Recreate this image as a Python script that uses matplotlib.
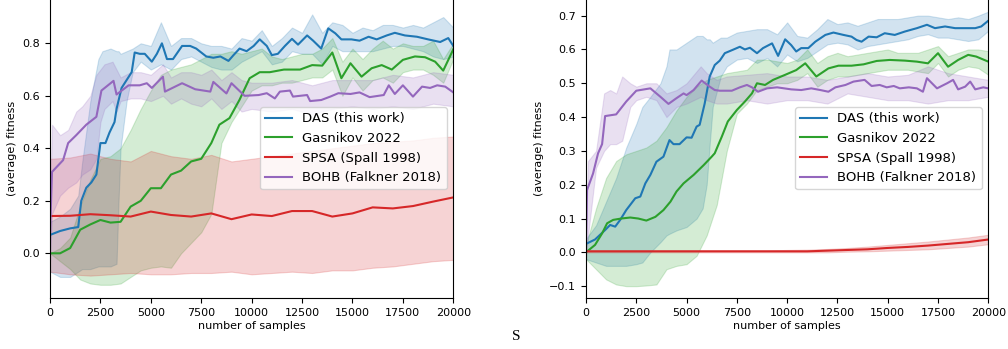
import matplotlib
matplotlib.use("Agg")
import matplotlib.pyplot as plt

# ---------------- left panel data ----------------
das_l_x = [0, 500, 750, 1000, 1400, 1550, 1800, 2050, 2300, 2500, 2750, 2950, 3200, 3300,
           3550, 3800, 4050, 4200, 4450, 4700, 5050, 5300, 5550, 5800, 6100, 6550, 6950,
           7250, 7750, 8100, 8450, 8850, 9100, 9400, 9750, 10100, 10400, 10750, 11000,
           11300, 11650, 12000, 12300, 12750, 13050, 13450, 13800, 14150, 14450, 14950,
           15350, 15800, 16200, 16700, 17100, 17600, 18200, 18750, 19350, 19750, 20000]
das_l_y = [0.07, 0.085, 0.09, 0.095, 0.10, 0.20, 0.25, 0.27, 0.30, 0.42, 0.42, 0.46, 0.50, 0.55,
           0.63, 0.66, 0.69, 0.765, 0.76, 0.76, 0.73, 0.76, 0.80, 0.74, 0.74, 0.79, 0.79,
           0.78, 0.75, 0.745, 0.75, 0.733, 0.755, 0.78, 0.77, 0.79, 0.815, 0.79, 0.755,
           0.76, 0.79, 0.817, 0.795, 0.83, 0.81, 0.78, 0.857, 0.838, 0.815, 0.815,
           0.81, 0.825, 0.815, 0.83, 0.84, 0.83, 0.825, 0.815, 0.805, 0.82, 0.79]
das_l_bx = [0, 500, 1000, 1400, 1600, 2000, 2400, 2600, 3000, 3300, 3400, 3500, 3800, 4100,
            4500, 5000, 5500, 6000, 6500, 7000, 7500, 8000, 8500, 9000, 9500, 10000, 10500,
            11000, 11500, 12000, 12500, 13000, 13500, 14000, 14500, 15000, 15500, 16000,
            16500, 17000, 17500, 18000, 18500, 19000, 19500, 20000]
das_l_hi = [0.12, 0.14, 0.17, 0.22, 0.35, 0.58, 0.74, 0.77, 0.78, 0.77, 0.77, 0.76, 0.77, 0.78,
            0.80, 0.79, 0.88, 0.79, 0.82, 0.82, 0.80, 0.79, 0.79, 0.78, 0.82, 0.81, 0.85,
            0.79, 0.82, 0.86, 0.84, 0.91, 0.84, 0.88, 0.87, 0.84, 0.86, 0.85, 0.87, 0.87,
            0.86, 0.87, 0.86, 0.88, 0.90, 0.86]
das_l_lo = [-0.07, -0.09, -0.09, -0.07, -0.06, -0.06, -0.05, -0.05, -0.05, -0.04, 0.20, 0.40,
            0.58, 0.69, 0.73, 0.70, 0.72, 0.70, 0.74, 0.75, 0.73, 0.71, 0.70, 0.70, 0.73,
            0.75, 0.77, 0.72, 0.73, 0.77, 0.76, 0.76, 0.72, 0.79, 0.77, 0.77, 0.77, 0.77,
            0.78, 0.79, 0.79, 0.78, 0.77, 0.75, 0.74, 0.75]

gas_l_x = [0, 500, 1000, 1500, 2000, 2500, 3000, 3500, 4000, 4500, 5000, 5500, 6000, 6500,
           7000, 7500, 8000, 8400, 8900, 9400, 9900, 10400, 10900, 11600, 12400, 13000,
           13500, 14000, 14450, 14900, 15450, 15950, 16450, 16950, 17500, 18100, 18600,
           19100, 19500, 20000]
gas_l_y = [0.0, 0.0, 0.02, 0.09, 0.11, 0.127, 0.117, 0.12, 0.178, 0.20, 0.248, 0.248, 0.30,
           0.315, 0.35, 0.36, 0.42, 0.49, 0.515, 0.585, 0.667, 0.69, 0.69, 0.70, 0.70, 0.717,
           0.715, 0.765, 0.667, 0.724, 0.673, 0.705, 0.717, 0.70, 0.737, 0.75, 0.747, 0.73,
           0.696, 0.777]
gas_l_bx = list(range(0, 20001, 500))
gas_l_hi = [0.0, 0.02, 0.06, 0.18, 0.28, 0.36, 0.37, 0.40, 0.47, 0.55, 0.62, 0.68, 0.70, 0.71,
            0.72, 0.74, 0.76, 0.76, 0.77, 0.76, 0.77, 0.78, 0.75, 0.74, 0.75, 0.76, 0.76,
            0.78, 0.82, 0.73, 0.78, 0.74, 0.78, 0.81, 0.78, 0.80, 0.79, 0.79, 0.81, 0.74, 0.80]
gas_l_lo = [0.0, -0.03, -0.06, -0.10, -0.115, -0.12, -0.12, -0.115, -0.09, -0.065, -0.055,
            -0.05, -0.055, 0.0, 0.04, 0.08, 0.15, 0.42, 0.50, 0.56, 0.62, 0.64, 0.64, 0.65,
            0.65, 0.66, 0.67, 0.67, 0.70, 0.60, 0.67, 0.62, 0.66, 0.67, 0.65, 0.69, 0.70,
            0.70, 0.68, 0.65, 0.74]

spsa_l_x = list(range(0, 20001, 1000))
spsa_l_y = [0.142, 0.143, 0.149, 0.145, 0.14, 0.159, 0.146, 0.14, 0.152, 0.13, 0.148, 0.142,
            0.161, 0.161, 0.14, 0.152, 0.175, 0.171, 0.18, 0.197, 0.213]
spsa_l_hi = [0.36, 0.365, 0.38, 0.36, 0.35, 0.39, 0.37, 0.36, 0.375, 0.35, 0.36, 0.37, 0.38,
             0.39, 0.40, 0.41, 0.42, 0.425, 0.43, 0.44, 0.445]
spsa_l_lo = [-0.07, -0.08, -0.085, -0.08, -0.075, -0.08, -0.08, -0.075, -0.075, -0.07, -0.08,
             -0.075, -0.07, -0.075, -0.065, -0.065, -0.055, -0.05, -0.04, -0.03, -0.025]

bohb_l_x = [0, 100, 650, 900, 1300, 1800, 2300, 2550, 3150, 3300, 3900, 4450, 4800, 5050,
            5600, 5700, 6550, 7200, 7950, 8100, 8750, 9000, 9650, 10350, 10750, 11150,
            11400, 11900, 12050, 12750, 12900, 13450, 13900, 14300, 14900, 15350, 15850,
            16550, 16800, 17100, 17500, 18000, 18450, 18850, 19200, 19600, 20000]
bohb_l_y = [0.07, 0.31, 0.355, 0.42, 0.45, 0.49, 0.52, 0.62, 0.657, 0.605, 0.64, 0.64, 0.648,
            0.63, 0.673, 0.616, 0.648, 0.625, 0.616, 0.653, 0.609, 0.648, 0.60, 0.603,
            0.61, 0.59, 0.616, 0.62, 0.597, 0.603, 0.58, 0.584, 0.597, 0.61, 0.607, 0.613,
            0.595, 0.603, 0.64, 0.607, 0.64, 0.597, 0.635, 0.63, 0.64, 0.635, 0.613]
bohb_l_bx = [0, 100, 500, 900, 1300, 1600, 2000, 2300, 2500, 2700, 3100, 3300, 3500, 4000,
             4500, 5000, 5600, 6000, 6500, 7000, 7500, 8000, 8500, 9000, 9500, 10000, 11000,
             12000, 13000, 14000, 15000, 16000, 17000, 18000, 19000, 20000]
bohb_l_hi = [0.2, 0.49, 0.45, 0.47, 0.54, 0.56, 0.60, 0.68, 0.70, 0.72, 0.73, 0.70, 0.67, 0.69,
             0.69, 0.68, 0.72, 0.67, 0.69, 0.69, 0.68, 0.70, 0.66, 0.69, 0.66, 0.65, 0.65,
             0.66, 0.64, 0.66, 0.66, 0.66, 0.68, 0.67, 0.69, 0.68]
bohb_l_lo = [-0.03, 0.15, 0.22, 0.25, 0.27, 0.30, 0.32, 0.36, 0.50, 0.55, 0.58, 0.54, 0.58,
             0.59, 0.59, 0.58, 0.60, 0.57, 0.59, 0.57, 0.56, 0.59, 0.55, 0.58, 0.54, 0.55,
             0.54, 0.55, 0.53, 0.55, 0.56, 0.55, 0.56, 0.55, 0.57, 0.56]

# ---------------- right panel data ----------------
das_r_x = [0, 450, 950, 1200, 1450, 1700, 2000, 2450, 2700, 2950, 3200, 3500, 3850, 4150,
           4350, 4650, 5000, 5250, 5500, 5650, 5900, 6150, 6400, 6650, 6900, 7300, 7650,
           7900, 8150, 8500, 8800, 9250, 9550, 9900, 10200, 10450, 10700, 11050, 11400,
           11900, 12300, 12800, 13200, 13450, 13700, 14050, 14450, 14850, 15350, 15850,
           16450, 16950, 17350, 17850, 18350, 18850, 19350, 19650, 20000]
das_r_y = [0.025, 0.038, 0.066, 0.081, 0.076, 0.096, 0.125, 0.16, 0.165, 0.204, 0.229, 0.268,
           0.283, 0.332, 0.32, 0.32, 0.34, 0.339, 0.372, 0.377, 0.44, 0.52, 0.554, 0.567,
           0.589, 0.599, 0.608, 0.60, 0.605, 0.589, 0.604, 0.618, 0.581, 0.63, 0.613, 0.594,
           0.604, 0.604, 0.623, 0.643, 0.65, 0.643, 0.638, 0.628, 0.623, 0.638, 0.636,
           0.648, 0.643, 0.653, 0.663, 0.673, 0.663, 0.668, 0.663, 0.663, 0.663, 0.668, 0.685]
das_r_bx = [0, 500, 1000, 1500, 2000, 2500, 2800, 3200, 3700, 4000, 4150, 4500, 5000, 5500,
            5800, 6000, 6150, 6300, 6700, 7000, 7500, 8000, 8500, 9000, 9500, 10000, 10500,
            11000, 11500, 12000, 12500, 13000, 13500, 14000, 14500, 15000, 15500, 16000,
            16500, 17000, 17500, 18000, 18500, 19000, 19500, 20000]
das_r_hi = [0.04, 0.08, 0.15, 0.22, 0.31, 0.38, 0.43, 0.46, 0.50, 0.55, 0.60, 0.60, 0.62, 0.64,
            0.64, 0.63, 0.63, 0.62, 0.635, 0.635, 0.65, 0.655, 0.66, 0.66, 0.645, 0.68, 0.64,
            0.635, 0.66, 0.69, 0.675, 0.68, 0.67, 0.68, 0.69, 0.69, 0.69, 0.695, 0.70, 0.70,
            0.695, 0.69, 0.695, 0.69, 0.70, 0.712]
das_r_lo = [-0.02, -0.03, -0.04, -0.04, -0.04, -0.035, -0.03, 0.0, 0.03, 0.05, 0.055, 0.065,
            0.075, 0.10, 0.13, 0.20, 0.32, 0.43, 0.52, 0.55, 0.57, 0.575, 0.56, 0.575, 0.55,
            0.585, 0.565, 0.575, 0.595, 0.615, 0.62, 0.615, 0.60, 0.61, 0.615, 0.62, 0.625,
            0.63, 0.64, 0.645, 0.635, 0.635, 0.63, 0.625, 0.63, 0.655]

gas_r_x = [0, 450, 800, 1050, 1350, 1750, 2200, 2600, 3000, 3450, 3850, 4200, 4500, 4850,
           5350, 5850, 6250, 6400, 6750, 7050, 7500, 7900, 8250, 8500, 8900, 9300, 9900,
           10450, 10900, 11450, 12050, 12550, 13200, 13800, 14450, 15100, 15850, 16450,
           17000, 17500, 18000, 18500, 19000, 19400, 20000]
gas_r_y = [0.0, 0.022, 0.056, 0.086, 0.096, 0.10, 0.103, 0.10, 0.094, 0.105, 0.125, 0.15,
           0.18, 0.204, 0.229, 0.258, 0.283, 0.293, 0.342, 0.387, 0.421, 0.446, 0.47, 0.50,
           0.495, 0.51, 0.525, 0.539, 0.559, 0.52, 0.544, 0.552, 0.552, 0.556, 0.566, 0.569,
           0.567, 0.564, 0.559, 0.589, 0.549, 0.569, 0.584, 0.579, 0.564]
gas_r_bx = list(range(0, 20001, 500))
gas_r_hi = [0.02, 0.13, 0.22, 0.27, 0.29, 0.30, 0.31, 0.33, 0.37, 0.42, 0.46, 0.49, 0.51, 0.52,
            0.53, 0.535, 0.54, 0.57, 0.57, 0.565, 0.56, 0.57, 0.60, 0.56, 0.58, 0.59, 0.58,
            0.585, 0.59, 0.595, 0.60, 0.59, 0.59, 0.59, 0.60, 0.61, 0.58, 0.59, 0.60, 0.60,
            0.595]
gas_r_lo = [-0.02, -0.05, -0.08, -0.095, -0.10, -0.10, -0.098, -0.095, -0.05, -0.04, -0.035,
            -0.01, 0.05, 0.14, 0.30, 0.41, 0.44, 0.48, 0.49, 0.50, 0.50, 0.51, 0.53, 0.49,
            0.51, 0.52, 0.52, 0.525, 0.53, 0.535, 0.54, 0.54, 0.54, 0.535, 0.53, 0.56, 0.52,
            0.54, 0.55, 0.545, 0.525]

spsa_r_x = list(range(0, 20001, 1000))
spsa_r_y = [0.003, 0.003, 0.003, 0.003, 0.003, 0.003, 0.003, 0.003, 0.003, 0.003, 0.003,
            0.003, 0.005, 0.007, 0.009, 0.013, 0.016, 0.02, 0.025, 0.03, 0.038]
spsa_r_hi = [0.006, 0.006, 0.006, 0.006, 0.006, 0.006, 0.006, 0.006, 0.006, 0.006, 0.007,
             0.008, 0.01, 0.013, 0.017, 0.022, 0.027, 0.032, 0.038, 0.044, 0.052]
spsa_r_lo = [0.0, 0.0, 0.0, 0.0, 0.0, 0.0, 0.0, 0.0, 0.0, 0.0, 0.0, 0.0, 0.0, 0.002, 0.003,
             0.005, 0.007, 0.009, 0.013, 0.017, 0.024]

bohb_r_x = [0, 50, 350, 600, 800, 950, 1500, 2000, 2500, 3200, 3700, 4100, 4500, 4850, 5000,
            5350, 5750, 6100, 6400, 6650, 7250, 7650, 8000, 8250, 8550, 9000, 9500, 10200,
            10700, 11200, 11650, 12050, 12400, 12900, 13300, 13850, 14200, 14600, 14950,
            15300, 15600, 16050, 16450, 16750, 16950, 17450, 17950, 18250, 18500, 18850,
            19100, 19350, 19750, 20000]
bohb_r_y = [0.02, 0.184, 0.233, 0.293, 0.32, 0.403, 0.408, 0.446, 0.478, 0.485, 0.46, 0.439,
            0.456, 0.47, 0.465, 0.48, 0.508, 0.492, 0.48, 0.478, 0.478, 0.488, 0.495, 0.488,
            0.475, 0.485, 0.488, 0.482, 0.48, 0.485, 0.48, 0.475, 0.488, 0.495, 0.505, 0.51,
            0.492, 0.495, 0.488, 0.492, 0.485, 0.488, 0.485, 0.475, 0.515, 0.485, 0.50, 0.51,
            0.482, 0.49, 0.505, 0.482, 0.488, 0.485]
bohb_r_bx = [0, 100, 500, 900, 1200, 1500, 1800, 2200, 2500, 3000, 3500, 4000, 4500, 5000,
             5700, 6000, 6500, 7000, 8000, 9000, 10000, 11000, 12000, 13000, 14000, 15000,
             16000, 17000, 18000, 19000, 20000]
bohb_r_hi = [0.05, 0.27, 0.30, 0.47, 0.48, 0.47, 0.52, 0.50, 0.49, 0.50, 0.50, 0.47, 0.48,
             0.50, 0.55, 0.53, 0.51, 0.52, 0.525, 0.53, 0.52, 0.52, 0.51, 0.52, 0.53, 0.52,
             0.525, 0.55, 0.53, 0.52, 0.51]
bohb_r_lo = [-0.02, 0.05, 0.25, 0.30, 0.32, 0.32, 0.33, 0.43, 0.45, 0.46, 0.45, 0.40, 0.43,
             0.44, 0.46, 0.45, 0.44, 0.44, 0.45, 0.44, 0.45, 0.45, 0.44, 0.47, 0.46, 0.45,
             0.45, 0.44, 0.45, 0.45, 0.46]

labels = ["DAS (this work)", "Gasnikov 2022", "SPSA (Spall 1998)", "BOHB (Falkner 2018)"]
colors = ["#1f77b4", "#2ca02c", "#d62728", "#9467bd"]

left_series = [
    (das_l_x, das_l_y, das_l_bx, das_l_lo, das_l_hi),
    (gas_l_x, gas_l_y, gas_l_bx, gas_l_lo, gas_l_hi),
    (spsa_l_x, spsa_l_y, spsa_l_x, spsa_l_lo, spsa_l_hi),
    (bohb_l_x, bohb_l_y, bohb_l_bx, bohb_l_lo, bohb_l_hi),
]
right_series = [
    (das_r_x, das_r_y, das_r_bx, das_r_lo, das_r_hi),
    (gas_r_x, gas_r_y, gas_r_bx, gas_r_lo, gas_r_hi),
    (spsa_r_x, spsa_r_y, spsa_r_x, spsa_r_lo, spsa_r_hi),
    (bohb_r_x, bohb_r_y, bohb_r_bx, bohb_r_lo, bohb_r_hi),
]


def draw_panel(ax, series, ylim, yticks):
    for (x, y, bx, lo, hi), lab, col in zip(series, labels, colors):
        ax.plot(x, y, color=col, lw=1.5, label=lab)
        ax.fill_between(bx, lo, hi, color=col, alpha=0.2, lw=0.8)
    ax.set_xlim(0, 20000)
    ax.set_ylim(*ylim)
    ax.set_yticks(yticks)
    ax.set_xticks(range(0, 20001, 2500))
    ax.tick_params(labelsize=8)
    ax.set_xlabel("number of samples", fontsize=8, labelpad=2)
    ax.set_ylabel("(average) fitness", fontsize=8)
    ax.legend(loc="center right", fontsize=9.5)


fig = plt.figure(figsize=(10.08, 3.49), dpi=100)
ax1 = fig.add_axes([50 / 1008, 50.7 / 349, 403.3 / 1008, 300 / 349])
ax2 = fig.add_axes([586 / 1008, 50.7 / 349, 402.3 / 1008, 300 / 349])

draw_panel(ax1, left_series, (-0.1714, 0.9715), [0.0, 0.2, 0.4, 0.6, 0.8])
draw_panel(ax2, right_series, (-0.1359, 0.7513), [-0.1, 0.0, 0.1, 0.2, 0.3, 0.4, 0.5, 0.6, 0.7])

fig.text(516 / 1008, 13 / 349, "S", family="Liberation Serif", fontsize=11,
         ha="center", va="center")

fig.savefig("out.png", dpi=100)
